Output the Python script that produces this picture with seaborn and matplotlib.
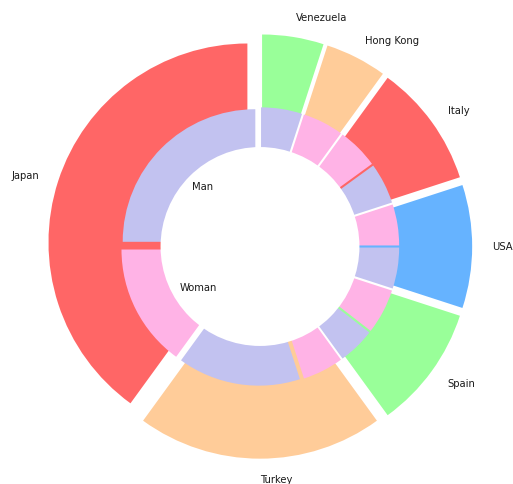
import matplotlib
matplotlib.use("Agg")
import matplotlib.pyplot as plt
import seaborn as sns

# ---- data ----
countries = ["Japan", "Turkey", "Spain", "USA", "Italy", "Hong Kong", "Venezuela"]
country_values = [40, 20, 10, 10, 10, 5, 5]
man_values = [25, 15, 4.5, 5, 5, 0, 5]
woman_values = [15, 5, 5.5, 5, 5, 5, 0]
gender_labels = ["Man", "Woman"]

outer_palette = ["#ff6666", "#ffcc99", "#99ff99", "#66b3ff"]
gender_palette = ["#c2c2f0", "#ffb3e6"]

sns.set_style("white")
plt.rcParams["font.family"] = ["DejaVu Sans"]

outer_colors = [outer_palette[i % len(outer_palette)] for i in range(len(countries))]

inner_values, inner_colors = [], []
for m, w in zip(man_values, woman_values):
    if m > 0:
        inner_values.append(m)
        inner_colors.append(gender_palette[0])
    if w > 0:
        inner_values.append(w)
        inner_colors.append(gender_palette[1])

fig = plt.figure(figsize=(5.13, 4.85), dpi=100)
ax = fig.add_axes([0, 0, 1, 1])

ax.pie(country_values, labels=countries, colors=outer_colors, startangle=90,
       explode=[0.2] * len(countries), radius=3,
       wedgeprops=dict(linewidth=0, edgecolor="none"),
       textprops=dict(fontsize=7.2, color="#1a1a1a"))
ax.pie(inner_values, colors=inner_colors, startangle=90,
       explode=[0.1] * len(inner_values), radius=2,
       wedgeprops=dict(linewidth=0, edgecolor="none"))

centre = plt.Circle((0, 0), 1.5, fc="white", ec="none", linewidth=0)
ax.add_artist(centre)

ax.text(-0.71, 0.91, gender_labels[0], ha="right", va="center", fontsize=7.2, color="#1a1a1a")
ax.text(-0.65, -0.61, gender_labels[1], ha="right", va="center", fontsize=7.2, color="#1a1a1a")

scale = 66.3
cx, cy = 260, 247.5
ax.set_aspect("auto")
ax.set_xlim(-cx / scale, (513 - cx) / scale)
ax.set_ylim(-(485 - cy) / scale, cy / scale)
ax.axis("off")

fig.savefig("out.png", dpi=100)
